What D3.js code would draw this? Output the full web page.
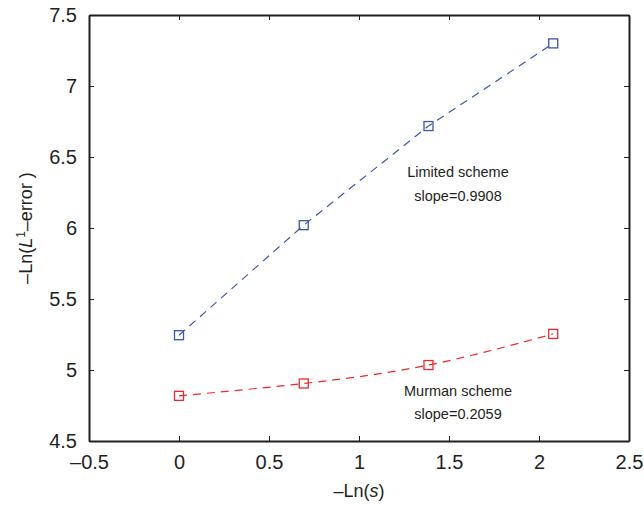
<!DOCTYPE html>
<html>
<head>
<meta charset="utf-8">
<script src="https://cdn.jsdelivr.net/npm/d3@7"></script>
<style>
  body { margin: 0; background: #fff; }
  text { font-family: "Liberation Sans", Arial, sans-serif; fill: #231f20; }
</style>
</head>
<body>
<svg id="chart" width="644" height="507"></svg>
<script>
// -Ln(s) for s = 1, 1/2, 1/4, 1/8
const lnS = [0, 0.693, 1.386, 2.079];
const limited = [5.245, 6.02, 6.718, 7.30];
const murman = [4.818, 4.905, 5.035, 5.254];
const xTicks = [-0.5, 0, 0.5, 1, 1.5, 2, 2.5];
const yTicks = [4.5, 5, 5.5, 6, 6.5, 7, 7.5];

const margin = { top: 15, right: 15, bottom: 66, left: 89 };
const width = 644, height = 507;

const svg = d3.select("#chart");
const x = d3.scaleLinear().domain([-0.5, 2.5]).range([margin.left, width - margin.right]);
const y = d3.scaleLinear().domain([4.5, 7.5]).range([height - margin.bottom, margin.top]);

const fmt = d => String(d).replace("-", "\u2013");

// axes, ticks drawn inward
svg.append("g")
  .attr("transform", `translate(0,${y(4.5)})`)
  .call(d3.axisBottom(x).tickValues(xTicks).tickSizeInner(-5).tickSizeOuter(0).tickPadding(14).tickFormat(fmt))
  .call(g => g.selectAll("text").style("font-size", "20px"));
svg.append("g")
  .attr("transform", `translate(0,${y(7.5)})`)
  .call(d3.axisTop(x).tickValues(xTicks).tickSizeInner(-5).tickSizeOuter(0).tickFormat(""));
svg.append("g")
  .attr("transform", `translate(${x(-0.5)},0)`)
  .call(d3.axisLeft(y).tickValues(yTicks).tickSizeInner(-5).tickSizeOuter(0).tickPadding(12).tickFormat(fmt))
  .call(g => g.selectAll("text").style("font-size", "20px"));
svg.append("g")
  .attr("transform", `translate(${x(2.5)},0)`)
  .call(d3.axisRight(y).tickValues(yTicks).tickSizeInner(-5).tickSizeOuter(0).tickFormat(""));

svg.selectAll(".domain").attr("stroke", "#231f20").attr("stroke-width", 2);
svg.selectAll(".tick line").attr("stroke", "#231f20").attr("stroke-width", 1);
svg.selectAll(".tick text").attr("fill", "#231f20");

// series
const series = [
  { vals: limited, color: "#3c56a8", curve: d3.curveLinear },
  { vals: murman, color: "#ea2a2e", curve: d3.curveNatural }
];
series.forEach(s => {
  const pts = lnS.map((v, i) => [v, s.vals[i]]);
  svg.append("path")
    .datum(pts)
    .attr("fill", "none")
    .attr("stroke", s.color)
    .attr("stroke-width", 1.2)
    .attr("stroke-dasharray", "8,6")
    .attr("d", d3.line().x(d => x(d[0])).y(d => y(d[1])).curve(s.curve));
  svg.selectAll(null)
    .data(pts)
    .join("rect")
    .attr("x", d => x(d[0]) - 4.5)
    .attr("y", d => y(d[1]) - 4.5)
    .attr("width", 9)
    .attr("height", 9)
    .attr("fill", "none")
    .attr("stroke", s.color)
    .attr("stroke-width", 1.3);
});

// annotations
const notes = [
  { t: "Limited scheme", cx: 1.55, cy: 6.36 },
  { t: "slope=0.9908", cx: 1.55, cy: 6.19 },
  { t: "Murman scheme", cx: 1.55, cy: 4.82 },
  { t: "slope=0.2059", cx: 1.55, cy: 4.655 }
];
svg.selectAll(null)
  .data(notes)
  .join("text")
  .attr("x", d => x(d.cx))
  .attr("y", d => y(d.cy))
  .attr("text-anchor", "middle")
  .style("font-size", "14.5px")
  .text(d => d.t);

// axis titles
const xl = svg.append("text")
  .attr("x", x(1))
  .attr("y", 497)
  .attr("text-anchor", "middle")
  .style("font-size", "18px");
xl.append("tspan").text("\u2013Ln(");
xl.append("tspan").style("font-style", "italic").text("s");
xl.append("tspan").text(")");

const yl = svg.append("text")
  .attr("transform", `translate(32,${y(6)}) rotate(-90)`)
  .attr("text-anchor", "middle")
  .style("font-size", "18px");
yl.append("tspan").text("\u2013Ln(");
yl.append("tspan").style("font-style", "italic").text("L");
yl.append("tspan").attr("baseline-shift", "super").style("font-size", "12px").text("1");
yl.append("tspan").text("\u2013error )");
</script>
</body>
</html>
